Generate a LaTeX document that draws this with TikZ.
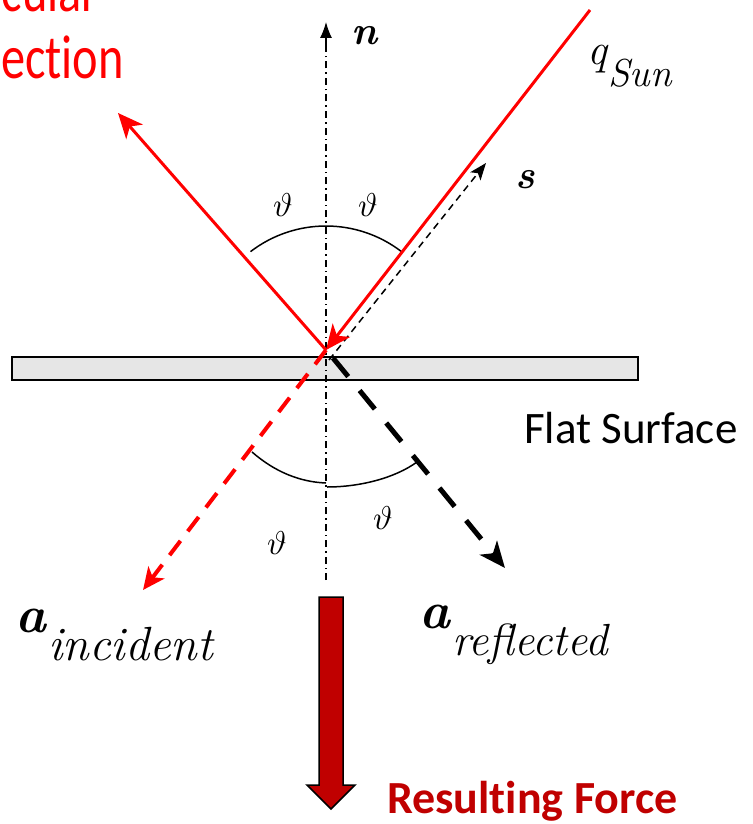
\documentclass[tikz,border=0pt]{standalone}
\usepackage{fontspec}
\newfontfamily\carlito[Ligatures=CommonOff]{Carlito}
\usetikzlibrary{arrows.meta}
\definecolor{darkred}{HTML}{C00000}
\definecolor{surfgray}{HTML}{E6E6E6}
\begin{document}
\begin{tikzpicture}[x=1pt,y=-1pt,
  lab/.style={inner sep=0pt},
  redray/.style={draw=red, line width=3pt},
  redhead/.style={-{Stealth[length=25pt,width=22pt,inset=7pt]}},
  normalline/.style={draw=black, line width=1.2pt, dash pattern=on 7pt off 4pt on 1.5pt off 4pt},
  anglearc/.style={draw=black, line width=1.5pt},
  thetalab/.style={lab, scale=3.3},
  vecfont/.style={font=\fontsize{40}{40}\selectfont\bfseries\itshape}
]
\useasboundingbox (0,0) rectangle (752,824);
\clip (0,0) rectangle (752,824);

% coordinates
\coordinate (O) at (326,350);
\coordinate (Ntop) at (326,22);
\coordinate (Nbot) at (326,580);
\coordinate (Sun) at (590,10);
\coordinate (Refl) at (118,113);
\coordinate (Inc) at (143,590);
\coordinate (Rstart) at (333,358);
\coordinate (Rend) at (505,568);
\coordinate (Sstart) at (329,360);
\coordinate (Send) at (486,163);

% flat surface
\draw[fill=surfgray, line width=1.5pt] (12,357) rectangle (638,380);

% normal
\draw[normalline] (Nbot) -- (326,40);
\draw[line width=1.2pt, -{Latex[length=16pt,width=12pt]}] (326,45) -- (Ntop);

% angle arcs
\draw[anglearc] (O) ++(-127.5:124) arc[start angle=-127.5, end angle=-52.5, radius=124];
\draw[anglearc] (252,452) .. controls (275,472) and (300,482) .. (326,483);
\draw[anglearc] (327,487) .. controls (360,487) and (395,478) .. (417,462);

% rays
\draw[redray, redhead] (O) -- (Refl);
\draw[red, line width=4pt, dash pattern=on 18pt off 12pt, -{Stealth[length=22pt,width=20pt,inset=6pt]}] (O) -- (Inc);
\draw[black, line width=5pt, dash pattern=on 24pt off 18pt, -{Stealth[length=26pt,width=22pt,inset=7pt]}] (Rstart) -- (Rend);
\draw[black, line width=1.5pt, dash pattern=on 7pt off 5pt, -{Stealth[length=17pt,width=13pt,inset=4pt]}] (Sstart) -- (Send);
\draw[redray, redhead] (Sun) -- (O);

% resulting force arrow
\draw[fill=darkred, line width=1.5pt, line join=miter]
  (319,597) -- (343,597) -- (343,785) -- (355,785) -- (331,809) -- (307,785) -- (319,785) -- cycle;

% labels
\node[lab, vecfont, anchor=base west] (nlab) at (351,45) {n};
\node[lab, vecfont, anchor=base west] (slab) at (515,188) {s};
\node[lab, font=\fontsize{44}{44}\selectfont\itshape, anchor=base west] (qlab) at (587,65) {q};
\node[lab, font=\fontsize{39}{39}\selectfont\itshape, anchor=base west] (sunlab) at (608,87) {Sun};

\node[thetalab] (t1) at (283,205) {$\vartheta$};
\node[thetalab] (t2) at (368,205) {$\vartheta$};
\node[thetalab] (t3) at (383,518) {$\vartheta$};
\node[thetalab] (t4) at (277,543) {$\vartheta$};

\node[lab, font=\fontsize{52}{52}\selectfont\bfseries\itshape, anchor=base west] (ainc) at (15,632) {a};
\node[lab, font=\fontsize{48}{48}\selectfont\itshape, anchor=base west] (incl) at (48,660) {incident};
\node[lab, font=\fontsize{52}{52}\selectfont\bfseries\itshape, anchor=base west] (aref) at (419,628) {a};
\node[lab, font=\fontsize{45}{45}\selectfont\itshape, anchor=base west] (refl) at (452,655) {reflected};

\node[lab, font=\carlito\fontsize{45}{45}\selectfont, anchor=base west] (flat) at (524,443) {Flat Surface};
\node[lab, font=\carlito\fontsize{46}{46}\selectfont\bfseries, text=darkred, anchor=base west] (force) at (387,813) {Resulting Force};
\node[lab, font=\carlito\fontsize{62}{62}\selectfont, text=red, anchor=base east, xscale=0.78] (spec1) at (99,12) {Specular};
\node[lab, font=\carlito\fontsize{62}{62}\selectfont, text=red, anchor=base east, xscale=0.78] (spec2) at (124,79) {Reflection};
\end{tikzpicture}
\end{document}
